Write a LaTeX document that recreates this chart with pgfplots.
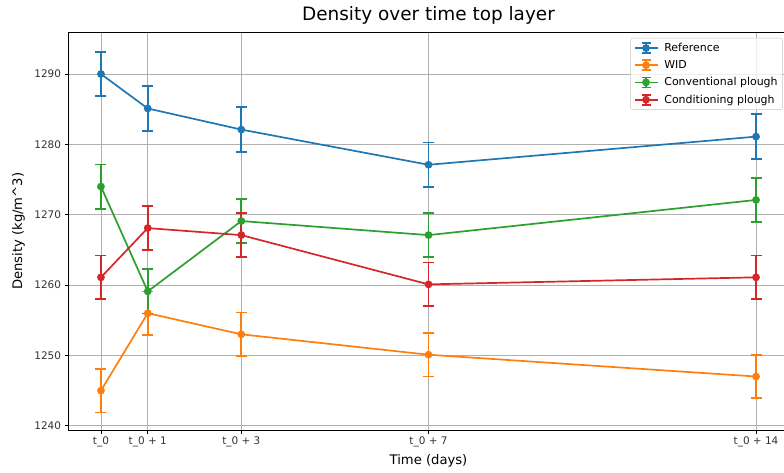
\documentclass[border=0pt]{standalone}
\usepackage{fontspec}
\setmainfont{DejaVu Sans}
\usepackage{pgfplots}
\pgfplotsset{compat=1.18}
\usepackage{pgfplotstable}

\definecolor{tabblue}{HTML}{1F77B4}
\definecolor{taborange}{HTML}{FF7F0E}
\definecolor{tabgreen}{HTML}{2CA02C}
\definecolor{tabred}{HTML}{D62728}
\definecolor{gridgray}{HTML}{B0B0B0}

\pgfplotstableread{
x y e
0 1290.0 3.17
1 1285.1 3.17
3 1282.1 3.17
7 1277.1 3.17
14 1281.1 3.17
}\refdata
\pgfplotstableread{
x y e
0 1245.0 3.1
1 1256.0 3.1
3 1253.0 3.1
7 1250.1 3.1
14 1247.0 3.1
}\wid
\pgfplotstableread{
x y e
0 1274.0 3.15
1 1259.1 3.15
3 1269.1 3.15
7 1267.1 3.15
14 1272.1 3.15
}\conv
\pgfplotstableread{
x y e
0 1261.1 3.1
1 1268.1 3.1
3 1267.1 3.1
7 1260.1 3.1
14 1261.1 3.1
}\cond

\begin{document}
\begin{tikzpicture}
\begin{axis}[
  scale only axis,
  width=720.6bp, height=397.5bp,
  xmin=-0.7, xmax=14.7,
  ymin=1239.4, ymax=1295.9,
  xtick={0,1,3,7,14},
  xticklabels={t\_0, t\_0 + 1, t\_0 + 3, t\_0 + 7, t\_0 + 14},
  ytick={1240,1250,1260,1270,1280,1290},
  /pgf/number format/assume math mode=true,
  /pgf/number format/1000 sep={},
  tick label style={font=\fontsize{10.5}{12}\selectfont, text=black!80},
  xtick pos=bottom, ytick pos=left,
  tick align=outside,
  major tick length=3.5bp,
  every tick/.style={black, line width=0.8bp},
  axis line style={black, line width=0.8bp},
  grid=major,
  major grid style={gridgray, line width=0.8bp},
  xticklabel style={inner sep=0pt, anchor=north, yshift=-3.5bp},
  yticklabel style={inner sep=0pt, anchor=east, xshift=-3.5bp},
  title={Density over time top layer},
  title style={font=\fontsize{18.5}{22}\selectfont, at={(axis description cs:0.5,1)}, anchor=base, yshift=6bp},
  xlabel={Time (days)},
  xlabel style={font=\fontsize{13.2}{15}\selectfont, at={(axis description cs:0.5,0)}, anchor=base, yshift=-34bp},
  ylabel={Density (kg/m\textasciicircum 3)},
  ylabel style={font=\fontsize{13.2}{15}\selectfont, at={(axis description cs:0,0.5)}, anchor=base, yshift=46bp},
  legend style={at={(axis description cs:1,1)}, anchor=north east, xshift=-6bp, yshift=-5.5bp,
    font=\fontsize{11}{13}\selectfont, draw=gridgray!70, fill=white, fill opacity=0.8, text opacity=1,
    rounded corners=2bp, inner xsep=3bp, inner ysep=3bp, row sep=3.5bp,
    /tikz/every odd column/.append style={column sep=4bp}},
  legend cell align=left,
  legend image code/.code={
    \draw[#1, mark=none] (0bp,0bp) -- (23bp,0bp);
    \draw[#1, mark=none] (11.5bp,-5bp) -- (11.5bp,5bp);
    \draw[#1, mark=none] (7bp,-5bp) -- (16bp,-5bp);
    \draw[#1, mark=none] (7bp,5bp) -- (16bp,5bp);
    \draw[#1] plot coordinates {(11.5bp,0bp)};
  },
  every axis plot/.append style={line width=1.7bp, mark=*, mark size=3bp,
    mark options={solid},
    error bars/y dir=both, error bars/y explicit,
    error bars/error bar style={line width=1.7bp},
    error bars/error mark options={rotate=90, mark size=5.5bp, line width=1.7bp}},
]
\addplot[color=tabblue, line width=1.7bp] table[x=x, y=y, y error=e] {\refdata};
\addlegendentry{Reference}
\addplot[color=taborange, line width=1.7bp] table[x=x, y=y, y error=e] {\wid};
\addlegendentry{WID}
\addplot[color=tabgreen, line width=1.7bp] table[x=x, y=y, y error=e] {\conv};
\addlegendentry{Conventional plough}
\addplot[color=tabred, line width=1.7bp] table[x=x, y=y, y error=e] {\cond};
\addlegendentry{Conditioning plough}
\end{axis}
\pgfresetboundingbox
\useasboundingbox (-68.2bp,-43bp) rectangle (715.8bp,430bp);
\end{tikzpicture}
\end{document}
